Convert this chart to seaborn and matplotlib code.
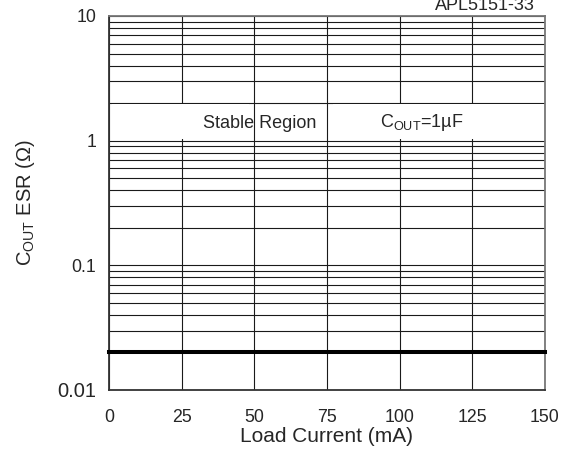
import matplotlib
matplotlib.use('Agg')
import matplotlib.pyplot as plt
from matplotlib.patches import Rectangle
from matplotlib.ticker import LogLocator, NullFormatter
import seaborn as sns

# data
load_current = [0, 150]          # mA
min_esr = [0.02, 0.02]           # ohm, lower stability limit
x_ticks = [0, 25, 50, 75, 100, 125, 150]
y_ticks = [0.01, 0.1, 1, 10]
y_tick_labels = ['0.01', '0.1', '1', '10']

sns.set_style('white')
plt.rcParams['font.family'] = ['Liberation Sans', 'DejaVu Sans']
plt.rcParams['mathtext.default'] = 'regular'

fig = plt.figure(figsize=(5.63, 4.54), dpi=100)
ax = fig.add_axes([0.1936, 0.141, 0.968 - 0.1936, 0.9648 - 0.141])

ax.set_yscale('log')
ax.set_xlim(0, 150)
ax.set_ylim(0.01, 10)

# grid: verticals every 25 mA, horizontals on every decade / minor step
ax.set_axisbelow(True)
ax.yaxis.set_minor_locator(LogLocator(base=10, subs=range(2, 10)))
ax.yaxis.set_minor_formatter(NullFormatter())
ax.grid(True, which='both', axis='y', color='#1a1a1a', lw=0.8)
ax.grid(True, which='major', axis='x', color='#1a1a1a', lw=0.8)

# white patches behind the annotations (they hide the vertical grid lines)
ax.add_patch(Rectangle((1, 1.03), 47, 0.93, facecolor='white', edgecolor='none', zorder=1.5))
ax.add_patch(Rectangle((77, 1.03), 72.5, 0.93, facecolor='white', edgecolor='none', zorder=1.5))

sns.lineplot(x=load_current, y=min_esr, ax=ax, color='black', lw=2.9,
             solid_capstyle='projecting', clip_on=False, zorder=3)

ax.set_xticks(x_ticks)
ax.set_xticklabels([str(v) for v in x_ticks])
ax.set_yticks(y_ticks)
ax.set_yticklabels(y_tick_labels)
ax.tick_params(axis='both', which='both', length=0, labelsize=12.8)
ax.tick_params(axis='x', pad=14)
ax.tick_params(axis='y', pad=9)
ax.get_yticklabels()[0].set_fontsize(14.5)

for side in ['left', 'bottom']:
    ax.spines[side].set_color('#333333')
    ax.spines[side].set_linewidth(1.3)
for side in ['top', 'right']:
    ax.spines[side].set_color('#777777')
    ax.spines[side].set_linewidth(1.3)

ax.set_xlabel('Load Current (mA)', fontsize=15)
ax.set_ylabel(r'$C_{OUT}$ ESR (Ω)', fontsize=14.5)
ax.xaxis.set_label_coords(0.5, -0.1)
ax.yaxis.set_label_coords(-0.165, 0.5)

ax.text(32.3, 1.37, 'Stable Region', fontsize=13, va='center', ha='left', zorder=4)
ax.text(93.2, 1.40, r'$C_{OUT}$=1µF', fontsize=13, va='center', ha='left', zorder=4)

fig.text(0.950, 0.978, 'APL5151-33', fontsize=13, ha='right', va='baseline')

fig.savefig('out.png', dpi=100)
